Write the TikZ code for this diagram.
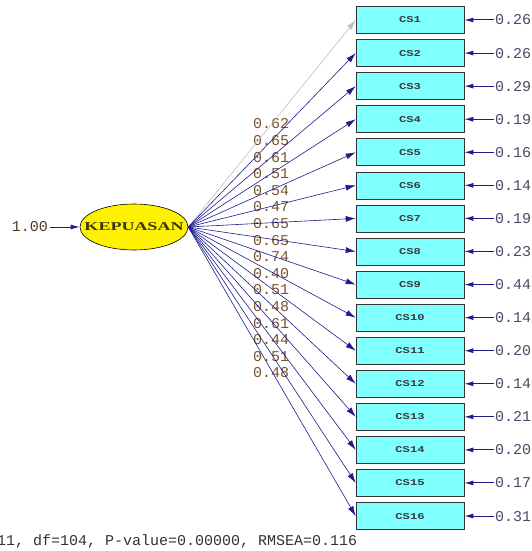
\documentclass[tikz,border=0pt]{standalone}
\usepackage{fontspec}
\setmonofont{Liberation Mono}
\newfontfamily\serifb{Liberation Serif}
\usetikzlibrary{arrows.meta,shapes.geometric}
\definecolor{navyln}{HTML}{1C1C8C}
\definecolor{boxfill}{HTML}{80FFFF}
\definecolor{loadtxt}{HTML}{7A5230}
\definecolor{errtxt}{HTML}{4A4A66}
\definecolor{ovaltxt}{HTML}{3A3410}
\tikzset{
  obs/.style={draw=black!80, fill=boxfill, line width=0.6pt, minimum width=108pt, minimum height=27pt, inner sep=0pt, font=\ttfamily\bfseries\fontsize{9}{9}\selectfont, text=black!65!cyan!40!black},
  lat/.style={ellipse, draw=black, fill=yellow, line width=0.6pt, minimum width=108pt, minimum height=46pt, inner sep=0pt},
  num/.style={font=\ttfamily\fontsize{15}{15}\selectfont, inner sep=0pt},
  load/.style={num, text=loadtxt},
  errl/.style={num, text=errtxt, anchor=west},
  path/.style={draw=navyln, line width=0.6pt, -{Latex[length=10pt,width=6pt]}},
  erra/.style={draw=navyln, line width=1pt, -{Latex[length=9pt,width=5pt]}}
}
\begin{document}
\begin{tikzpicture}[x=1pt,y=-1pt]
\useasboundingbox (0,0) rectangle (532,551);
\node[lat] (K) at (134,227) {\makebox[0pt]{\serifb\bfseries\fontsize{12}{12}\selectfont\textcolor{ovaltxt}{\scalebox{1.5}[1]{KEPUASAN}}}};
\node[num, text=loadtxt!70!black, anchor=east] (v) at (48,227) {1.00};
\draw[erra] (v.east) ++(2,0) coordinate (vs) -- (K.west);
\foreach \i/\l/\e in {1/0.62/0.26,2/0.65/0.26,3/0.61/0.29,4/0.51/0.19,5/0.54/0.16,6/0.47/0.14,7/0.65/0.19,8/0.65/0.23,9/0.74/0.44,10/0.40/0.14,11/0.51/0.20,12/0.48/0.14,13/0.61/0.21,14/0.44/0.20,15/0.51/0.17,16/0.48/0.31}{
  \pgfmathsetmacro{\yy}{20+(\i-1)*33.07}
  \pgfmathsetmacro{\ly}{124+(\i-1)*16.6}
  \node[obs] (cs\i) at (410,\yy) {\scalebox{1.35}[1]{CS\i}};
  \node[errl] (e\i) at (495,\yy) {\e};
  \draw[erra] (e\i.west) ++(-1,0) -- (cs\i.east);
  \node[load] (l\i) at (271,\ly) {\l};
}
\draw[draw=black!25, line width=0.6pt, -{Latex[length=10pt,width=6pt]}] (K.east) -- (cs1.west);
\foreach \i in {2,...,16}{
  \draw[path] (K.east) -- (cs\i.west);
}
\node[num, anchor=west, text=black!80] (chi) at (-3,541) {11, df=104, P-value=0.00000, RMSEA=0.116};
\end{tikzpicture}
\end{document}
